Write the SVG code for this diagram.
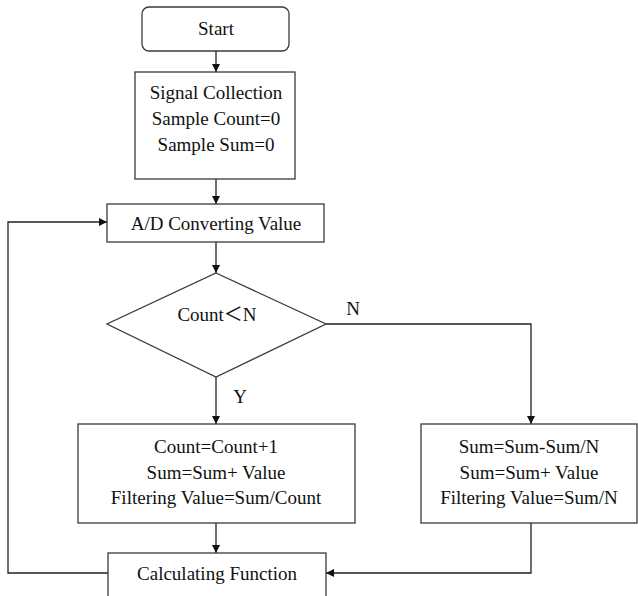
<svg xmlns="http://www.w3.org/2000/svg" width="638" height="596" viewBox="0 0 638 596">
<style>
.box{fill:#fff;stroke:#3a3a3a;stroke-width:1.3}
.t{font-family:"Liberation Serif","Noto Sans CJK SC",serif;font-size:19px;fill:#111;text-anchor:middle}
.c{fill:none;stroke:#222;stroke-width:1.3}
</style>
<defs>
<marker id="ah" viewBox="0 0 10 10" refX="10" refY="5" markerWidth="8" markerHeight="8" markerUnits="userSpaceOnUse" orient="auto">
<path d="M0,0 L10,5 L0,10 z" fill="#111"/>
</marker>
</defs>
<rect width="638" height="596" fill="#fff"/>
<g id="connectors">
<line class="c" x1="216" y1="51" x2="216" y2="72" marker-end="url(#ah)"/>
<line class="c" x1="216" y1="179" x2="216" y2="204" marker-end="url(#ah)"/>
<line class="c" x1="216" y1="242" x2="216" y2="273" marker-end="url(#ah)"/>
<line class="c" x1="216" y1="377" x2="216" y2="424" marker-end="url(#ah)"/>
<polyline class="c" points="326,324 531,324 531,424" marker-end="url(#ah)"/>
<line class="c" x1="216" y1="523" x2="216" y2="553" marker-end="url(#ah)"/>
<polyline class="c" points="531,523 531,573 326,573" marker-end="url(#ah)"/>
<polyline class="c" points="108,573 8,573 8,222 107,222" marker-end="url(#ah)"/>
<text class="t" x="353" y="315">N</text>
<text class="t" x="240" y="403">Y</text>
</g>
<g id="start">
<rect class="box" x="142" y="7" width="147" height="44" rx="7"/>
<text class="t" x="216" y="35">Start</text>
</g>
<g id="signal">
<rect class="box" x="135" y="72" width="160" height="107"/>
<text class="t" x="216" y="99">Signal Collection</text>
<text class="t" x="216" y="125">Sample Count=0</text>
<text class="t" x="216" y="151">Sample Sum=0</text>
</g>
<g id="ad">
<rect class="box" x="107" y="204" width="217" height="38"/>
<text class="t" x="216" y="230">A/D Converting Value</text>
</g>
<g id="decision">
<polygon class="box" points="216,273 326,324 216,377 107,324"/>
<text class="t" x="217" y="321">Count＜N</text>
</g>
<g id="yesbox">
<rect class="box" x="78" y="424" width="277" height="99"/>
<text class="t" x="216" y="453">Count=Count+1</text>
<text class="t" x="216" y="479">Sum=Sum+ Value</text>
<text class="t" x="216" y="504">Filtering Value=Sum/Count</text>
</g>
<g id="nobox">
<rect class="box" x="421" y="424" width="216" height="99"/>
<text class="t" x="529" y="453">Sum=Sum-Sum/N</text>
<text class="t" x="529" y="479">Sum=Sum+ Value</text>
<text class="t" x="529" y="504">Filtering Value=Sum/N</text>
</g>
<g id="calc">
<rect class="box" x="108" y="553" width="218" height="50"/>
<text class="t" x="217" y="580">Calculating Function</text>
</g>
</svg>
